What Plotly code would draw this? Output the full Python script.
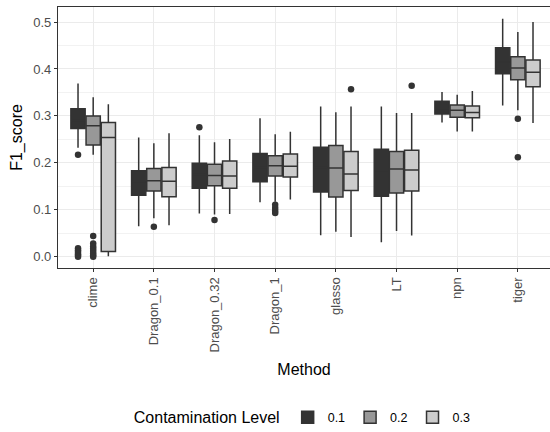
import plotly.graph_objects as go

methods = ["clime", "Dragon_0.1", "Dragon_0.32", "Dragon_1", "glasso", "LT", "npn", "tiger"]
levels = ["0.1", "0.2", "0.3"]
fills = ["#333333", "#989898", "#CCCCCC"]

upper_01 = [0.369, 0.254, 0.259, 0.295, 0.320, 0.320, 0.351, 0.507]
q3_01 = [0.315, 0.183, 0.199, 0.220, 0.233, 0.229, 0.331, 0.445]
median_01 = [0.290, 0.160, 0.175, 0.190, 0.190, 0.180, 0.315, 0.415]
q1_01 = [0.273, 0.131, 0.146, 0.160, 0.138, 0.129, 0.304, 0.390]
lower_01 = [0.232, 0.065, 0.092, 0.116, 0.046, 0.031, 0.286, 0.322]
outliers_01 = {"clime": [0.217, 0.018, 0.014, 0.010, 0.006, 0.003, 0.0], "Dragon_0.32": [0.276]}

upper_02 = [0.340, 0.242, 0.244, 0.261, 0.308, 0.306, 0.345, 0.479]
q3_02 = [0.300, 0.188, 0.197, 0.215, 0.237, 0.224, 0.323, 0.426]
median_02 = [0.279, 0.162, 0.173, 0.194, 0.189, 0.187, 0.312, 0.402]
q1_02 = [0.238, 0.140, 0.151, 0.172, 0.127, 0.136, 0.297, 0.377]
lower_02 = [0.217, 0.082, 0.090, 0.117, 0.053, 0.055, 0.267, 0.312]
outliers_02 = {"clime": [0.044, 0.028, 0.022, 0.017, 0.012, 0.007, 0.003, 0.0],
               "Dragon_0.1": [0.064], "Dragon_0.32": [0.078],
               "Dragon_1": [0.111, 0.104, 0.098, 0.093], "tiger": [0.294, 0.212]}

upper_03 = [0.325, 0.263, 0.251, 0.266, 0.320, 0.306, 0.353, 0.500]
q3_03 = [0.286, 0.190, 0.204, 0.219, 0.224, 0.227, 0.321, 0.419]
median_03 = [0.254, 0.161, 0.172, 0.193, 0.176, 0.185, 0.307, 0.393]
q1_03 = [0.011, 0.128, 0.146, 0.170, 0.141, 0.140, 0.296, 0.362]
lower_03 = [0.001, 0.067, 0.091, 0.122, 0.042, 0.045, 0.267, 0.285]
outliers_03 = {"glasso": [0.357], "LT": [0.364]}

stats = [
    (upper_01, q3_01, median_01, q1_01, lower_01, outliers_01),
    (upper_02, q3_02, median_02, q1_02, lower_02, outliers_02),
    (upper_03, q3_03, median_03, q1_03, lower_03, outliers_03),
]

dodge = 0.25
offsets = [-dodge, 0.0, dodge]
LINE = "#333333"
FONT = "Liberation Sans, Arial, sans-serif"

fig = go.Figure()
for j, (up, q3, med, q1, lo, outs) in enumerate(stats):
    xs = [i + offsets[j] for i in range(len(methods))]
    fig.add_trace(go.Box(
        x=xs, q1=q1, median=med, q3=q3, lowerfence=lo, upperfence=up,
        name=levels[j], fillcolor=fills[j], width=0.235,
        line=dict(color=LINE, width=1.5), whiskerwidth=0,
        boxpoints=False, showlegend=True, hoverinfo="skip",
    ))
    ox, oy = [], []
    for m, vals in outs.items():
        for v in vals:
            ox.append(methods.index(m) + offsets[j])
            oy.append(v)
    fig.add_trace(go.Scatter(
        x=ox, y=oy, mode="markers", showlegend=False, hoverinfo="skip",
        marker=dict(color=LINE, size=6.5, line=dict(width=0)),
    ))

fig.update_layout(
    width=550, height=432,
    margin=dict(l=58, r=0, t=7, b=164, autoexpand=False),
    paper_bgcolor="white", plot_bgcolor="white",
    font=dict(family=FONT, color="black"),
    boxmode="overlay",
    legend=dict(
        orientation="h", x=0.15, xanchor="left", y=-0.575, yanchor="middle",
        title=dict(text="Contamination Level", side="left", font=dict(size=16, color="black")),
        font=dict(size=12.5, color="black"), itemwidth=30, traceorder="normal",
    ),
)
fig.update_xaxes(
    range=[-0.58, 7.53], tickmode="array", automargin=False,
    tickvals=list(range(len(methods))), ticktext=methods,
    tickangle=-90, tickfont=dict(size=13, color="#4D4D4D"),
    ticks="outside", ticklen=3, tickcolor=LINE,
    showgrid=True, gridcolor="#EBEBEB", gridwidth=1,
    showline=True, linecolor=LINE, linewidth=1.3, mirror=True,
    zeroline=False,
    title=dict(text="Method", font=dict(size=16, color="black"), standoff=12),
)
fig.update_yaxes(
    range=[-0.024, 0.532], tickmode="array", automargin=False,
    tickvals=[0.0, 0.1, 0.2, 0.3, 0.4, 0.5], ticktext=["0.0", "0.1", "0.2", "0.3", "0.4", "0.5"],
    tickfont=dict(size=13, color="#4D4D4D"),
    ticks="outside", ticklen=3, tickcolor=LINE,
    showgrid=True, gridcolor="#EBEBEB", gridwidth=1,
    minor=dict(tickvals=[0.05, 0.15, 0.25, 0.35, 0.45], showgrid=True, gridcolor="#F2F2F2", gridwidth=0.6, ticks=""),
    showline=True, linecolor=LINE, linewidth=1.3, mirror=False,
    zeroline=False,
    title=dict(text="F1_score", font=dict(size=16, color="black"), standoff=6),
)

fig.write_html("out.html")
